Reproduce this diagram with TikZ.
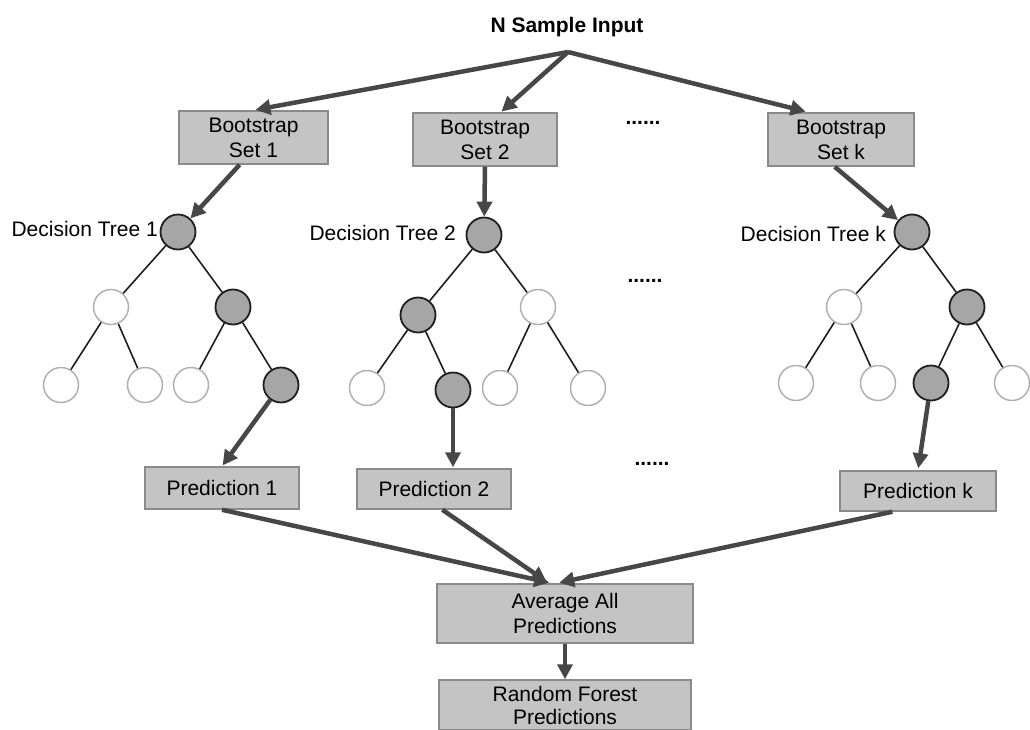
\documentclass[tikz,border=0pt]{standalone}
\usepackage{fontspec}
\setmainfont{Liberation Sans}
\usetikzlibrary{arrows.meta,calc}
\definecolor{boxfill}{HTML}{C4C4C4}
\definecolor{boxline}{HTML}{8A8A8A}
\definecolor{arr}{HTML}{474747}
\definecolor{gfill}{HTML}{A6A6A6}
\definecolor{gline}{HTML}{1E1E1E}
\definecolor{wline}{HTML}{B0B0B0}
\tikzset{
  txt/.style={font=\fontsize{21}{25}\selectfont, align=center, inner sep=0pt},
  box/.style={txt, draw=boxline, fill=boxfill, line width=1.5pt},
  gnode/.style={circle, draw=gline, fill=gfill, line width=1.8pt, minimum size=35pt, inner sep=0pt},
  wnode/.style={circle, draw=wline, fill=white, line width=1.5pt, minimum size=35pt, inner sep=0pt},
  edge/.style={draw=gline, line width=1.6pt},
  bigarrow/.style={draw=arr, line width=4.5pt, -{Triangle[length=15pt,width=15pt]}, line join=round},
  dots/.style={font=\fontsize{21}{25}\selectfont\bfseries, inner sep=0pt},
}
\begin{document}
\begin{tikzpicture}[x=1pt,y=-1pt]
\useasboundingbox (0,0) rectangle (1030,729);
\clip (0,0) rectangle (1030,729);
% title
\node[txt, font=\fontsize{21}{25}\selectfont\bfseries] (title) at (567,27) {N Sample Input};
\coordinate (J) at (568,52);
% bootstrap boxes
\node[box, minimum width=149pt, minimum height=53pt] (B1) at (253.5,137.5) {Bootstrap\\Set 1};
\node[box, minimum width=144pt, minimum height=53pt] (B2) at (485,139.5) {Bootstrap\\Set 2};
\node[box, minimum width=146pt, minimum height=53pt] (Bk) at (841,139.5) {Bootstrap\\Set k};
\node[dots] (d1) at (643,123) {......};
% tree 1
\node[gnode] (r1) at (178,232) {};
\node[wnode] (a) at (111,307) {};
\node[gnode] (b) at (233,307) {};
\node[wnode] (a1) at (61,385) {};
\node[wnode] (a2) at (145,385) {};
\node[wnode] (b1) at (191,385) {};
\node[gnode] (b2) at (281,385) {};
\node[txt, anchor=east] (L1) at (158,229) {Decision Tree 1};
% tree 2
\node[gnode] (r2) at (484,235) {};
\node[gnode] (c) at (418,315) {};
\node[wnode] (d) at (538,307) {};
\node[wnode] (c1) at (367,388) {};
\node[gnode] (c2) at (453,390) {};
\node[wnode] (d1n) at (500,388) {};
\node[wnode] (d2n) at (588,388) {};
\node[txt, anchor=east] (L2) at (456,233) {Decision Tree 2};
% tree k
\node[gnode] (rk) at (912,232) {};
\node[wnode] (e) at (844,307) {};
\node[gnode] (f) at (967,307) {};
\node[wnode] (e1) at (796,383) {};
\node[wnode] (e2) at (878,383) {};
\node[gnode] (f1) at (931,383) {};
\node[wnode] (f2) at (1012,383) {};
\node[txt, anchor=east] (Lk) at (886,234) {Decision Tree k};
\node[dots] (d2) at (645,281) {......};
% tree edges
\draw[edge] (r1) -- (a); \draw[edge] (r1) -- (b);
\draw[edge] (a) -- (a1); \draw[edge] (a) -- (a2);
\draw[edge] (b) -- (b1); \draw[edge] (b) -- (b2);
\draw[edge] (r2) -- (c); \draw[edge] (r2) -- (d);
\draw[edge] (c) -- (c1); \draw[edge] (c) -- (c2);
\draw[edge] (d) -- (d1n); \draw[edge] (d) -- (d2n);
\draw[edge] (rk) -- (e); \draw[edge] (rk) -- (f);
\draw[edge] (e) -- (e1); \draw[edge] (e) -- (e2);
\draw[edge] (f) -- (f1); \draw[edge] (f) -- (f2);
% predictions
\node[box, minimum width=154pt, minimum height=42pt] (P1) at (222,488) {Prediction 1};
\node[box, minimum width=154pt, minimum height=40pt] (P2) at (434,489) {Prediction 2};
\node[box, minimum width=156pt, minimum height=40pt] (Pk) at (918,491) {Prediction k};
\node[dots] (d3) at (652,464) {......};
% average and result
\node[box, minimum width=256pt, minimum height=59pt] (Avg) at (565,613.5) {Average All\\Predictions};
\node[box, font=\fontsize{21}{23}\selectfont, minimum width=252pt, minimum height=50pt] (RF) at (565,705) {Random Forest\\Predictions};
% arrows
\draw[bigarrow, shorten >=2pt] (J) -- (B1.north);
\draw[bigarrow, shorten >=1pt] (J) -- (B2.60);
\draw[bigarrow, shorten >=3pt] (J) -- (Bk.140);
\draw[bigarrow] (B1.243) -- (r1);
\draw[bigarrow] (B2.south) -- (r2);
\draw[bigarrow] (Bk.257) -- (rk);
\draw[bigarrow, shorten >=1pt] (b2) -- (P1.north);
\draw[bigarrow, shorten >=1pt] (c2) -- (c2 |- P2.north);
\draw[bigarrow, shorten >=2pt] (f1) -- (Pk.north);
\draw[bigarrow, shorten >=3pt] (P1.south) -- (Avg.113);
\draw[bigarrow, shorten >=3pt] (P2.292) -- (Avg.118);
\draw[bigarrow, shorten >=3pt] (Pk.219) -- (Avg.106);
\draw[bigarrow] (Avg.south) -- (RF.north);
\end{tikzpicture}
\end{document}
